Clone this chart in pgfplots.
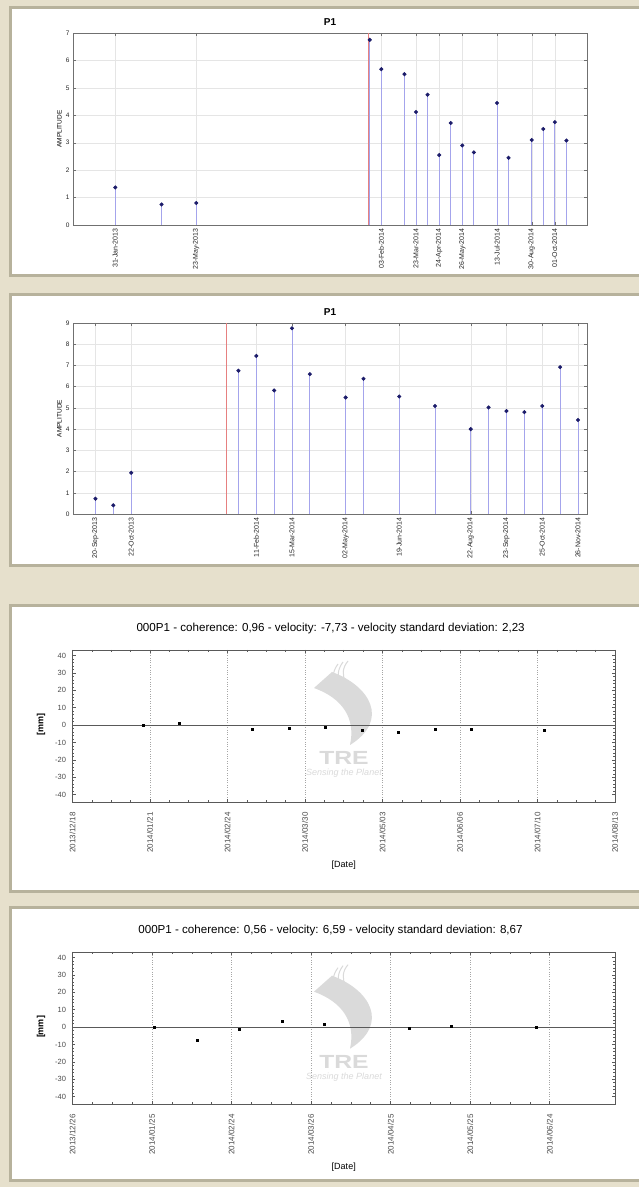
\documentclass[border=0pt]{standalone}
\usepackage{pgfplots}
\pgfplotsset{compat=1.18}
\usepackage{pgfplotstable}
\usepackage{fontspec}
\usepackage{graphicx}
\setmainfont{Liberation Sans}

\definecolor{bg}{HTML}{E6E0CC}
\definecolor{boxframe}{HTML}{B7B29C}
\definecolor{stemblue}{HTML}{A4A4EC}
\definecolor{dotblue}{HTML}{1C1C6A}
\definecolor{redl}{HTML}{E68080}
\definecolor{wm}{HTML}{DADADA}
\definecolor{axgray}{HTML}{707070}

\pgfplotstableread{
x y
30 1.37
94 0.75
142 0.80
382 6.75
398 5.68
430 5.50
446 4.12
462 4.75
478 2.55
494 3.72
510 2.90
526 2.65
558 4.45
574 2.45
606 3.10
622 3.50
638 3.75
654 3.08
}\pone

\pgfplotstableread{
x y
-103 0.72
-87 0.41
-71 1.94
25 6.75
41 7.45
57 5.82
73 8.75
89 6.59
121 5.49
137 6.37
169 5.54
201 5.09
233 4.00
249 5.02
265 4.85
281 4.80
297 5.09
313 6.92
329 4.43
}\ptwo

\pgfplotstableread{
x y
31 0.0
47 1.3
79 -2.5
95 -1.9
111 -1.3
127 -3.1
143 -4.0
159 -2.5
175 -2.5
207 -3.1
}\pthree

\pgfplotstableread{
x y
31 0.0
47 -7.7
63 -1.2
79 3.5
95 1.5
127 -0.6
143 0.4
175 -0.2
}\pfour

\pgfplotsset{
  mat/.style={
    scale only axis, anchor=south west,
    axis line style={axgray}, tick style={axgray, line width=0.4pt},
    tick align=inside, major tick length=3pt,
    grid=major, major grid style={gray!20, line width=0.4pt},
    /pgf/number format/assume math mode=true,
    tick label style={font=\fontsize{6.5}{7}\selectfont, text=black!85},
    x tick label style={font=\fontsize{7}{8}\selectfont, rotate=90, anchor=east},
    title style={font=\bfseries\fontsize{10}{12}\selectfont, at={(0.5,1)}, anchor=south, yshift=-2pt},
    ylabel style={font=\fontsize{6.5}{7}\selectfont, at={(axis description cs:-0.015,0.5)}, anchor=south},
  },
  tre/.style={
    scale only axis, anchor=south west,
    axis line style={black!65, line width=0.8pt}, tick style={black!65, line width=0.6pt},
    tick align=inside, major tick length=3pt, minor tick length=1.8pt,
    minor x tick num=3, minor y tick num=4,
    xmajorgrids, major grid style={dotted, gray!70, line width=0.6pt},
    /pgf/number format/assume math mode=true,
    tick label style={font=\fontsize{7.5}{8}\selectfont, text=black!70},
    yticklabel shift=3pt,
    x tick label style={font=\fontsize{8}{9}\selectfont, rotate=90, anchor=east},
    xticklabel shift=7pt,
    ytick={-40,-30,...,40},
    ymin=-44.2, ymax=43.2,
    xlabel={[Date]},
    xlabel style={font=\fontsize{9}{10}\selectfont, at={(axis description cs:0.5,-0.414)}, anchor=center},
  },
}

\newcommand\watermark[2]{%
  \begin{scope}[shift={(#1,#2)}]
    \fill[wm] (-12,86) .. controls (26,72) and (46,38) .. (6,13) .. controls (12,40) and (-2,60) .. (-30,70) -- cycle;
    \draw[wm, line width=1pt] (-6,94) .. controls (-12,86) and (-12,78) .. (-8,72);
    \draw[wm, line width=1pt] (-1,96) .. controls (-7,88) and (-7,80) .. (-3,74);
    \draw[wm, line width=1pt] (4,97) .. controls (-2,90) and (-2,82) .. (2,76);
    \node[text=wm, font=\bfseries\fontsize{19}{19}\selectfont, inner sep=0pt] at (0,0) {\scalebox{1.3}[1]{TRE}};
    \node[text=wm, font=\itshape\fontsize{9}{9}\selectfont, inner sep=0pt] at (0,-15) {Sensing the Planet};
  \end{scope}}

\begin{document}
\begin{tikzpicture}[x=1pt,y=1pt]
\useasboundingbox (0,0) rectangle (639,1187);
\clip (0,0) rectangle (639,1187);
\fill[bg] (0,0) rectangle (639,1187);
\draw[boxframe, line width=3pt, fill=white] (10,911) rectangle (660,1179);
\draw[boxframe, line width=3pt, fill=white] (10,621) rectangle (660,892);
\draw[boxframe, line width=3pt, fill=white] (10,295) rectangle (660,581);
\draw[boxframe, line width=3pt, fill=white] (10,6) rectangle (660,279);

\watermark{344}{429}
\watermark{344}{125.3}

% Panel 1
\begin{axis}[mat, at={(73pt,962pt)}, width=514pt, height=192pt,
  xmin=-28.5, xmax=682.5, ymin=0, ymax=7, ytick={0,...,7},
  xtick={30,142,398,446,478,510,558,606,638},
  xticklabels={31-Jan-2013,23-May-2013,03-Feb-2014,23-Mar-2014,24-Apr-2014,26-May-2014,13-Jul-2014,30-Aug-2014,01-Oct-2014},
  title={P1}, ylabel={AMPLITUDE}]
\addplot[redl, line width=0.6pt] coordinates {(380,0) (380,7)};
\addplot[ycomb, color=stemblue, line width=0.8pt, mark=*, mark options={draw=dotblue, fill=dotblue}, mark size=1.6pt] table {\pone};
\end{axis}

% Panel 2
\begin{axis}[mat, at={(73pt,673pt)}, width=514pt, height=191pt,
  xmin=-123.1, xmax=337.1, ymin=0, ymax=9, ytick={0,...,9},
  xtick={-103,-71,41,73,121,169,233,265,297,329},
  xticklabels={20-Sep-2013,22-Oct-2013,11-Feb-2014,15-Mar-2014,02-May-2014,19-Jun-2014,22-Aug-2014,23-Sep-2014,25-Oct-2014,26-Nov-2014},
  title={P1}, ylabel={AMPLITUDE}]
\addplot[redl, line width=0.6pt] coordinates {(14,0) (14,9)};
\addplot[ycomb, color=stemblue, line width=0.8pt, mark=*, mark options={draw=dotblue, fill=dotblue}, mark size=1.6pt] table {\ptwo};
\end{axis}

% Panel 3
\begin{axis}[tre, at={(72.5pt,385pt)}, width=542.5pt, height=152pt,
  xmin=0, xmax=238, xtick={0,34,...,238},
  xticklabels={2013/12/18,2014/01/21,2014/02/24,2014/03/30,2014/05/03,2014/06/06,2014/07/10,2014/08/13},
  title style={font=\fontsize{11.6}{13}\selectfont, at={(axis description cs:0.4758,1.0987)}, anchor=center},
  title={000P1 - coherence: 0,96 - velocity: -7,73 - velocity standard deviation: 2,23}]
\draw[black!65, line width=0.8pt] (axis cs:0,0) -- (axis cs:238,0);
\addplot[only marks, mark=square*, mark size=1pt, black] table {\pthree};
\end{axis}
\node[rotate=90, font=\bfseries\fontsize{9}{10}\selectfont] at (41,462) {[mm]};

% Panel 4
\begin{axis}[tre, at={(72.5pt,83pt)}, width=542.5pt, height=152pt,
  xmin=0, xmax=204.6, xtick={0,30,...,180},
  xticklabels={2013/12/26,2014/01/25,2014/02/24,2014/03/26,2014/04/25,2014/05/25,2014/06/24},
  title style={font=\fontsize{11.6}{13}\selectfont, at={(axis description cs:0.4756,1.1007)}, anchor=center},
  title={000P1 - coherence: 0,56 - velocity: 6,59 - velocity standard deviation: 8,67}]
\draw[black!65, line width=0.8pt] (axis cs:0,0) -- (axis cs:204.6,0);
\addplot[only marks, mark=square*, mark size=1pt, black] table {\pfour};
\end{axis}
\node[rotate=90, font=\bfseries\fontsize{9}{10}\selectfont] at (41,160) {[mm]};
\end{tikzpicture}
\end{document}
